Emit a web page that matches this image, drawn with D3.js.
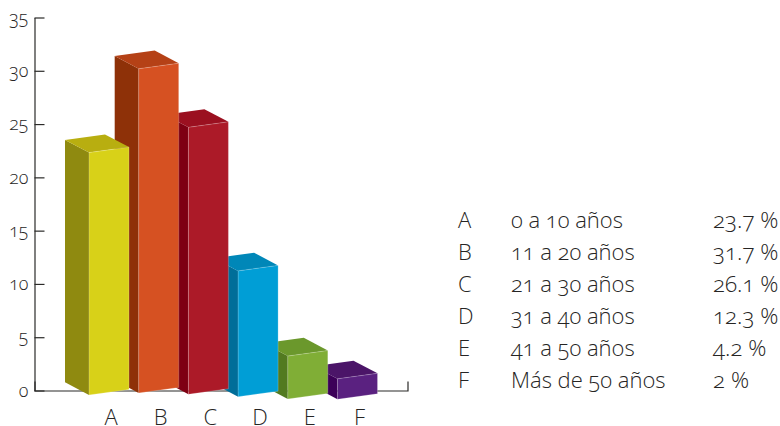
<!DOCTYPE html>
<html>
<head>
<meta charset="utf-8">
<script src="https://cdn.jsdelivr.net/npm/d3@7"></script>
<style>
  html, body { margin: 0; padding: 0; background: #fff; }
  text { font-family: "Open Sans", sans-serif; font-weight: 350; fill: #262524; font-feature-settings: "onum" 1; font-variant-numeric: oldstyle-nums; }
</style>
</head>
<body>
<div id="chart"></div>
<script>
var categories = ["A", "B", "C", "D", "E", "F"];
var percentages = [23.7, 31.7, 26.1, 12.3, 4.2, 2];
var ageRanges = ["0 a 10 años", "11 a 20 años", "21 a 30 años", "31 a 40 años", "41 a 50 años", "Más de 50 años"];
var percentLabels = ["23.7 %", "31.7 %", "26.1 %", "12.3 %", "4.2 %", "2 %"];
var yTicks = [0, 5, 10, 15, 20, 25, 30, 35];
var frontColors = ["#d8d118", "#d65122", "#ac1a28", "#009ed6", "#80ae36", "#5a2180"];
var sideColors = ["#8f8a10", "#8e3108", "#7e0013", "#006e99", "#527a20", "#3c0058"];
var topColors = ["#b8ae10", "#b54116", "#9b1020", "#0087b8", "#6b982c", "#4b1568"];

var width = 780, height = 426;

var svg = d3.select("#chart")
    .append("svg")
    .attr("width", width)
    .attr("height", height)
    .style("display", "block");

// axis scale
var y = d3.scaleLinear().domain([0, 35]).range([390.5, 17.5]);
// the bars are drawn a bit shorter than the axis says, and each sits on its own floor
var barHeight = d3.scaleLinear().domain([0, 35]).range([0, 358]);
var floorY = d3.scaleOrdinal().domain(categories).range([395, 393, 394.3, 396.7, 399, 399.3]);
var x = d3.scaleBand().domain(categories).range([89, 377.5]).paddingInner(0.195);

// Y axis, ticks point into the plot
var yAxis = svg.append("g")
    .attr("transform", "translate(34.5,0)")
    .call(d3.axisLeft(y).tickValues(yTicks).tickSizeInner(-10).tickSizeOuter(0).tickPadding(6));
yAxis.selectAll("path, line").attr("stroke", "#2b2a29").attr("stroke-width", 1.2);
yAxis.selectAll("text").attr("font-size", 18);
yAxis.attr("font-family", null);

// baseline with the little closing tick on the right
var xLine = d3.scaleLinear().domain([0, 1]).range([34.5, 407.5]);
var baseLine = svg.append("g")
    .attr("transform", "translate(0,390.5)")
    .call(d3.axisBottom(xLine).tickValues([]).tickSizeOuter(-9));
baseLine.select("path").attr("stroke", "#2b2a29").attr("stroke-width", 1.2);

// bars, last one first so each bar covers the side of the next
var bars = svg.append("g")
    .selectAll("g")
    .data(categories.slice().reverse())
    .enter()
    .append("g");

var w = x.bandwidth(), dx = 24, dy = 12.7, slant = 5.5;

function poly(points) { return d3.line()(points) + "Z"; }
function barTop(c) { return floorY(c) - barHeight(percentages[categories.indexOf(c)]); }
function colorOf(list) { return function (c) { return list[categories.indexOf(c)]; }; }

bars.append("path")
    .attr("d", function (c) {
        var l = x(c), t = barTop(c), b = floorY(c);
        return poly([[l - dx, t - dy], [l, t], [l, b], [l - dx, b - dy]]);
    })
    .attr("fill", colorOf(sideColors));

bars.append("path")
    .attr("d", function (c) {
        var l = x(c), t = barTop(c);
        return poly([[l - dx, t - dy], [l + w - dx, t - dy - slant], [l + w, t - slant], [l, t]]);
    })
    .attr("fill", colorOf(topColors));

bars.append("path")
    .attr("d", function (c) {
        var l = x(c), t = barTop(c), b = floorY(c);
        return poly([[l, t], [l + w, t - slant], [l + w, b - slant], [l, b]]);
    })
    .attr("fill", colorOf(frontColors))
    .attr("stroke", "#fff")
    .attr("stroke-opacity", 0.35)
    .attr("stroke-width", 0.6);

// X labels
var xAxis = svg.append("g")
    .attr("transform", "translate(2,408.5)")
    .call(d3.axisBottom(x).tickSize(0).tickPadding(0));
xAxis.attr("font-family", null);
xAxis.select(".domain").remove();
xAxis.selectAll("text")
    .attr("font-size", 22)
    .attr("dy", "0.76em");

// legend table
var rowY = d3.scalePoint().domain(categories).range([228, 388]);
var rows = svg.append("g")
    .selectAll("g")
    .data(categories)
    .enter()
    .append("g")
    .attr("transform", function (c) { return "translate(0," + rowY(c) + ")"; });

rows.append("text").attr("x", 458).attr("font-size", 22).text(function (c) { return c; });
rows.append("text").attr("x", 511).attr("font-size", 22)
    .text(function (c, i) { return ageRanges[i]; });
rows.append("text").attr("x", 713).attr("font-size", 22.5)
    .text(function (c, i) { return percentLabels[i]; });
</script>
</body>
</html>
